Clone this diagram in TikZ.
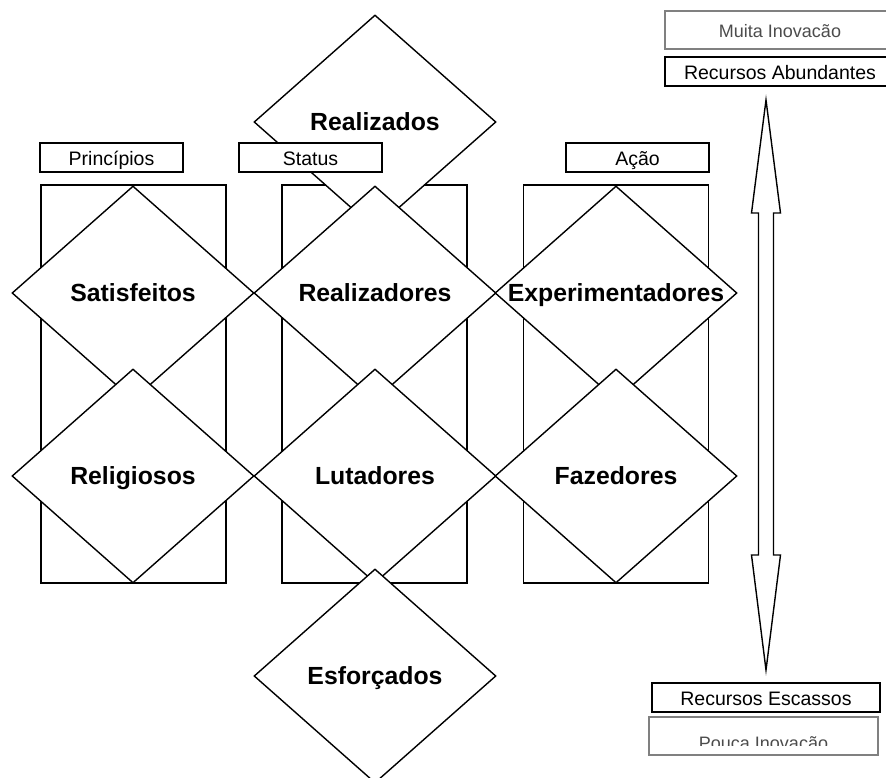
\documentclass[tikz,border=0pt]{standalone}
\usepackage{fontspec}
\setmainfont{Liberation Sans}
\usetikzlibrary{shapes.geometric}

\tikzset{
  coluna/.style={draw, line width=1.4pt, minimum width=185pt, minimum height=398pt, inner sep=0pt},
  titulo/.style={draw, line width=1.4pt, fill=white, minimum width=143pt, minimum height=29pt, inner sep=0pt, text height=17pt, text depth=0pt, font=\fontsize{19.5}{22}\selectfont},
  grupo/.style={diamond, draw, line width=1.4pt, fill=white, minimum width=242pt, minimum height=214pt, inner sep=0pt},
  rotulo/.style={text height=20pt, text depth=3pt, font=\bfseries\fontsize{24.8}{28}\selectfont},
  recurso/.style={draw, line width=2pt, fill=white, minimum height=29pt, inner sep=0pt, text height=16pt, text depth=0pt, font=\fontsize{19.5}{22}\selectfont},
  inovacao/.style={draw=gray, line width=1.4pt, text=black!70, minimum height=38pt, inner sep=0pt, text height=16pt, text depth=0pt, font=\fontsize{18}{21}\selectfont}
}

\begin{document}
\begin{tikzpicture}[x=1pt, y=-1pt]
\useasboundingbox[fill=white] (0,0) rectangle (886,778);

% Columns
\node[coluna] (colPrinc) at (133.5,384) {};
\node[coluna] (colStatus) at (374.5,384) {};
\node[coluna] (colAcao) at (616,384) {};

% Top group
\node[grupo, label={[rotulo]center:Realizados}] (realizados) at (375,122) {};

% Column titles
\node[titulo] (princ) at (111.5,157.5) {Princípios};
\node[titulo] (status) at (310.5,157.5) {Status};
\node[titulo] (acao) at (637.5,157.5) {Ação};

% First row
\node[grupo, label={[rotulo]center:Satisfeitos}] (satisf) at (133,293) {};
\node[grupo, label={[rotulo]center:Realizadores}] (realizadores) at (375,293) {};
\node[grupo, label={[rotulo]center:Experimentadores}] (experim) at (616,293) {};

% Second row
\node[grupo, label={[rotulo]center:Religiosos}] (religiosos) at (133,476) {};
\node[grupo, label={[rotulo]center:Lutadores}] (lutadores) at (375,476) {};
\node[grupo, label={[rotulo]center:Fazedores}] (fazedores) at (616,476) {};

% Bottom group
\node[grupo, label={[rotulo]center:Esforçados}] (esforcados) at (375,676) {};

% Resources scale
\node[inovacao, minimum width=230pt] (muita) at (780,30) {Muita Inovacão};
\node[recurso, minimum width=230pt] (abund) at (780,72) {Recursos Abundantes};
\node[recurso, minimum width=228pt] (escassos) at (766,697.5) {Recursos Escassos};
\node[inovacao, minimum width=229pt] (pouca) at (763.5,736) {};
\begin{scope}
\clip (650,718) rectangle (877,745);
\node[anchor=base, text=black!70, font=\fontsize{18}{21}\selectfont] (poucaTxt) at (763.5,749) {Pouca Inovacão};
\end{scope}

% Double arrow
\coordinate (pontaCima) at (766,100);
\coordinate (pontaBaixo) at (766,670);
\draw[line width=1.4pt, fill=white, line join=miter] (pontaCima) -- ++(14.5,113) -- ++(-7,0) -- ++(0,342) -- ++(7,0)
  -- (pontaBaixo) -- ++(-14.5,-115) -- ++(7,0) -- ++(0,-342) -- ++(-7,0) -- cycle;

\end{tikzpicture}
\end{document}
